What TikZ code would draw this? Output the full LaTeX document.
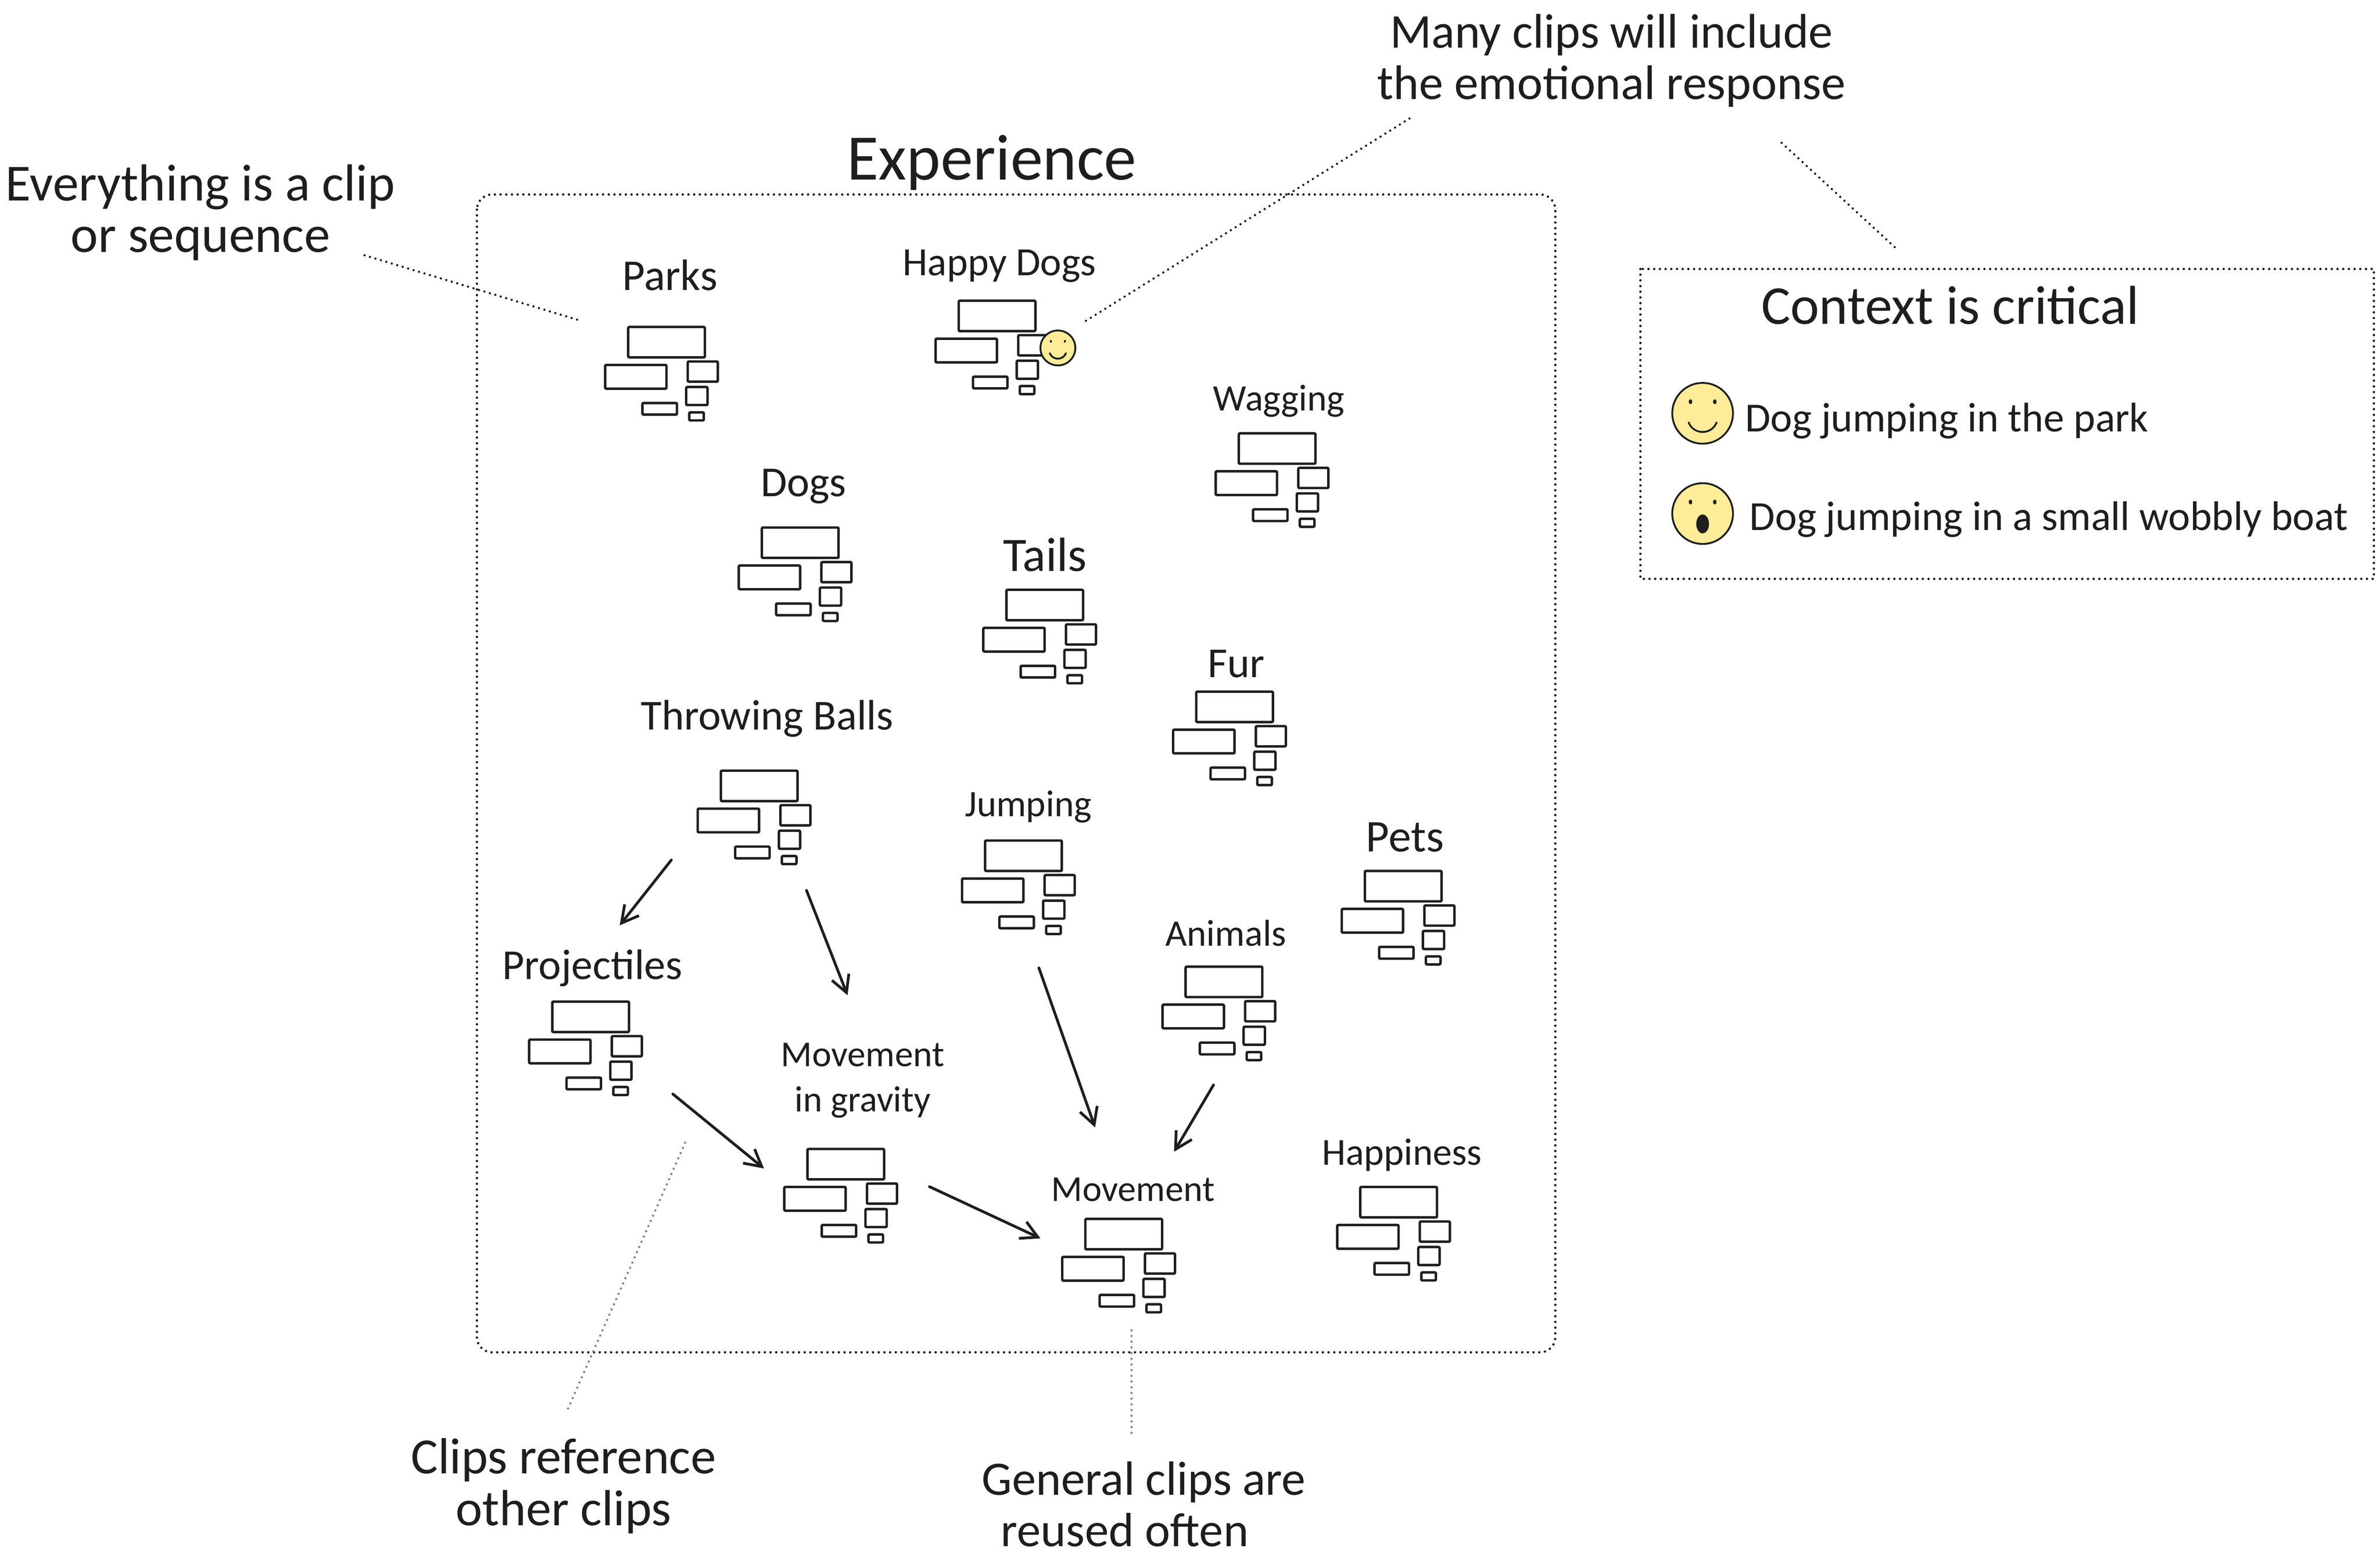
\documentclass[tikz,border=0pt]{standalone}
\usepackage{fontspec}
\setmainfont{Carlito}
\usetikzlibrary{arrows.meta}
\definecolor{ink}{HTML}{1E1E1E}
\definecolor{facefill}{HTML}{FFEC99}
\tikzset{
 x=0.02cm, y=-0.02cm,
 every node/.style={text=ink, inner sep=0pt, outer sep=0pt},
 cliplabel/.style={font=\fontsize{#1}{17}\selectfont, align=center},
 cliplabel/.default=15,
 note/.style={font=\fontsize{#1}{19.3}\selectfont, align=center},
 note/.default=19,
 heading/.style={font=\fontsize{#1}{28}\selectfont},
 legendtext/.style={font=\fontsize{15.5}{19}\selectfont, anchor=west},
 clipnode/.style={minimum width=1.5cm, minimum height=1.25cm},
 clipbox/.style={draw=ink, line width=0.032cm, rounded corners=0.015cm},
 dotbox/.style={draw=ink, line width=0.032cm, line cap=round, dash pattern=on 0pt off 0.075cm},
 leader/.style={draw=ink, line width=0.03cm, line cap=round, dash pattern=on 0pt off 0.075cm},
 greyleader/.style={leader, draw=ink!55},
 link/.style={draw=ink, line width=0.036cm, line cap=round, -{Straight Barb[length=2.2mm,width=2.4mm]}},
 face/.style={circle, draw=ink, line width=0.024cm, fill=facefill},
 pics/clipset/.style={code={
  \draw[clipbox] (-22.4,-30.8) rectangle (28.1,-10.8);
  \draw[clipbox] (-37.6,-5.8) rectangle (2.8,9.8);
  \draw[clipbox] (16.8,-8.1) rectangle (36.6,5.2);
  \draw[clipbox] (15.8,8.7) rectangle (29.8,20.6);
  \draw[clipbox] (-13,19.2) rectangle (9.7,26.9);
  \draw[clipbox] (17.8,25.4) rectangle (27.4,30.7);
 }},
 pics/smile/.style={code={
  \fill[ink] (-.4,-.38) circle[x radius=.06, y radius=.08];
  \fill[ink] (.4,-.38) circle[x radius=.06, y radius=.08];
  \draw[ink, line width=0.024cm, line cap=round] (-.46,.3) .. controls (-.3,.72) and (.3,.72) .. (.46,.3);
 }},
 pics/wow/.style={code={
  \fill[ink] (-.4,-.38) circle[x radius=.06, y radius=.08];
  \fill[ink] (.4,-.38) circle[x radius=.06, y radius=.08];
  \fill[ink] (0,.34) circle[x radius=.21, y radius=.31];
 }}
}

\begin{document}
\begin{tikzpicture}
 \useasboundingbox (0,0) rectangle (1567,1026.4);

 % experience frame
 \node[heading=24.3] (title) at (653,107) {Experience};
 \draw[dotbox, rounded corners=0.2cm] (314,128) rectangle (1024,890);

 % clips
 \foreach \name/\px/\py in {parks/436/246, happy/653.6/228.7, wagging/838/316,
   dogs/524/378, tails/685/419, fur/810/486, throwing/497/538, jumping/671/584,
   pets/921/604, animals/803/667, projectiles/386/690, gravity/554/787,
   movement/737/833, happiness/918/812}
 {
  \node[clipnode] (\name) at (\px,\py) {};
  \pic at (\name.center) {clipset};
 }

 \node[cliplabel=16.5] (parkslab) at (441,181) {Parks};
 \node[cliplabel] (happylab) at (658,175) {Happy Dogs};
 \node[cliplabel=14] (wagginglab) at (842,264) {Wagging};
 \node[cliplabel=16] (dogslab) at (529,320) {Dogs};
 \node[cliplabel=18] (tailslab) at (688,365) {Tails};
 \node[cliplabel=16] (furlab) at (814,437) {Fur};
 \node[cliplabel=16] (throwinglab) at (505,473) {Throwing Balls};
 \node[cliplabel=14] (jumpinglab) at (677,531) {Jumping};
 \node[cliplabel=17] (petslab) at (925,551) {Pets};
 \node[cliplabel=14] (animalslab) at (807,614) {Animals};
 \node[cliplabel=16] (projectileslab) at (390,637) {Projectiles};
 \node[cliplabel=13.7] (gravitylab) at (568,711) {Movement\\in gravity};
 \node[cliplabel=13.7] (movementlab) at (746,783) {Movement};
 \node[cliplabel=14.3] (happinesslab) at (923,760) {Happiness};

 \node[face, minimum size=0.46cm] (happyface) at (696.5,229) {};
 \pic[scale=11.5] at (happyface.center) {smile};

 % references between clips
 \draw[link] ([shift={(-55,28)}]throwing.center) -- ([shift={(18,-28)}]projectileslab.center);
 \draw[link] ([shift={(34,48)}]throwing.center) -- ([shift={(4,-132)}]gravity.center);
 \draw[link] ([shift={(13,53)}]jumping.center) -- ([shift={(-16,-91)}]movement.center);
 \draw[link] ([shift={(-4,47)}]animals.center) -- ([shift={(36,-75)}]movement.center);
 \draw[link] ([shift={(57,30)}]projectiles.center) -- ([shift={(-51,-18)}]gravity.center);
 \draw[link] ([shift={(58,-6)}]gravity.center) -- ([shift={(-52,-18)}]movement.center);

 % context box
 \node[minimum width=9.66cm, minimum height=4.08cm] (context) at (1321.5,279) {};
 \draw[dotbox] (context.north west) rectangle (context.south east);
 \node[heading=20.5] (contextlab) at (1284,201) {Context is critical};
 \node[face, minimum size=0.8cm] (parkface) at (1121,272) {};
 \pic[scale=20] at (parkface.center) {smile};
 \node[face, minimum size=0.8cm] (boatface) at (1121,338) {};
 \pic[scale=20] at (boatface.center) {wow};
 \node[legendtext] (parktext) at (1149,277) {Dog jumping in the park};
 \node[legendtext] (boattext) at (1152,342) {Dog jumping in a small wobbly boat};

 % notes
 \node[note=19.5] (everything) at (132,140) {Everything is a clip\\or sequence};
 \node[note=18.2] (manyclips) at (1061,40) {Many clips will include\\the emotional response};
 \node[note] (reference) at (371,978) {Clips reference\\other clips};
 \node[note=18] (general) at (753,990) {General clips are\\reused often\hspace*{0.5cm}\null};
 \coordinate (refend) at (452,750);

 \draw[leader] ([shift={(108,28)}]everything.center) -- ([shift={(-54,-35)}]parks.center);
 \draw[leader] ([shift={(-133,38)}]manyclips.center) -- ([shift={(15.5,-16)}]happyface.center);
 \draw[leader] ([shift={(112,54)}]manyclips.center) -- ([shift={(-71.5,-114)}]context.center);
 \draw[greyleader] ([shift={(3,-51)}]reference.center) -- (refend);
 \draw[greyleader] ([shift={(-8,-47)}]general.center) -- ([shift={(8,42)}]movement.center);
\end{tikzpicture}
\end{document}
